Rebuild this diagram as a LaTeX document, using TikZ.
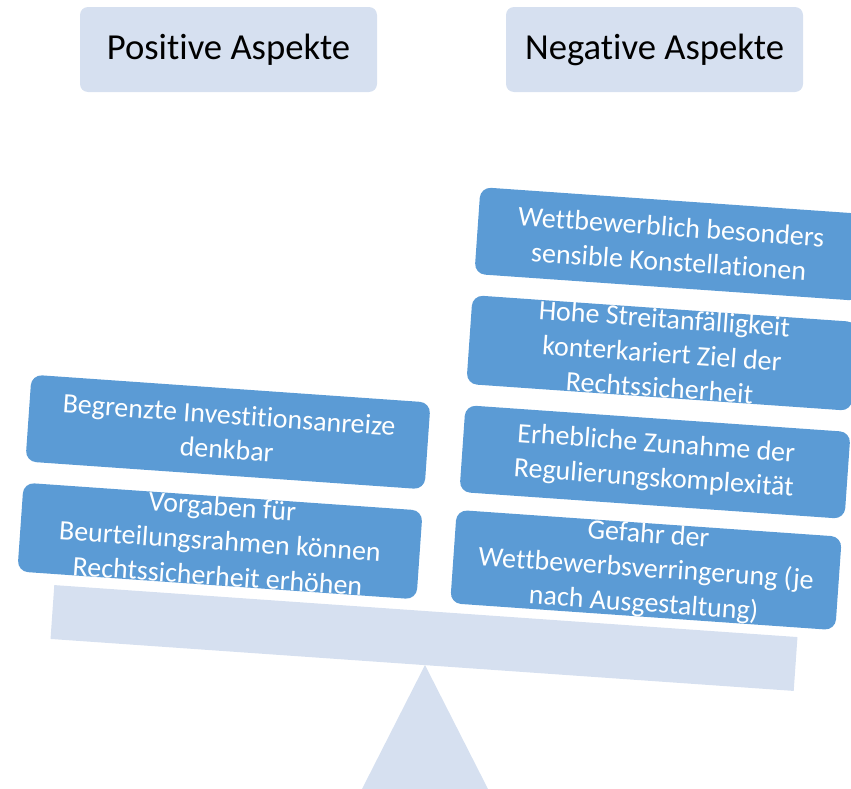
\documentclass[tikz,border=0pt]{standalone}
\usepackage{fontspec}
\setmainfont{Carlito}[RawFeature={-liga;-clig;-dlig;-hlig;-calt}]
\newcommand{\nolig}{\kern0pt }
\definecolor{lightbg}{HTML}{D6E0F0}
\definecolor{boxblue}{HTML}{5B9BD5}
\begin{document}
\begin{tikzpicture}[x=0.75pt,y=-0.75pt,
  titlebox/.style={fill=lightbg,rounded corners=6pt,minimum width=222.75pt,minimum height=63.75pt,inner sep=0pt,text=black,font=\fontsize{27.5}{33}\selectfont},
  itembox/.style={fill=boxblue,rounded corners=8pt,minimum height=65.25pt,inner sep=0pt,align=center,text=white,rotate=-4,font=\fontsize{21}{26}\selectfont},
  leftbox/.style={itembox,minimum width=300pt},
  rightbox/.style={itembox,minimum width=289.5pt},
  beam/.style={fill=lightbg,minimum width=558.75pt,minimum height=40.5pt,inner sep=0pt,rotate=-4}
]
\useasboundingbox (0,0) rectangle (851,789);
\clip (0,0) rectangle (851,789);
% fulcrum and beam
\coordinate (apex) at (425,665);
\coordinate (baseL) at (362,789);
\coordinate (baseR) at (488,789);
\fill[lightbg] (apex) -- (baseR) -- (baseL) -- cycle;
\node[beam] (beam) at (424,638) {};
% titles
\node[titlebox] (pos) at (228.5,49.5) {Posit\nolig ive Aspekte};
\node[titlebox] (neg) at (654.5,49.5) {Negat\nolig ive Aspekte};
% left side
\node[leftbox] (l1) at (228,432) {Begrenzte Invest\nolig it\nolig ionsanreize\\denkbar};
\node[leftbox] (l2) at (220,541) {Vorgaben für\\Beurteilungsrahmen können\\Rechtssicherheit erhöhen};
% right side
\node[rightbox] (r1) at (670,244) {Wet\nolig tbewerblich besonders\\sensible Konstellat\nolig ionen};
\node[rightbox] (r2) at (662,353) {Hohe Streitanfälligkeit\\konterkariert Ziel der\\Rechtssicherheit};
\node[rightbox] (r3) at (655,462) {Erhebliche Zunahme der\\Regulierungskomplexität};
\node[rightbox] (r4) at (646,570) {Gefahr der\\Wet\nolig tbewerbsverringerung (je\\nach Ausgestaltung)};
\end{tikzpicture}
\end{document}
